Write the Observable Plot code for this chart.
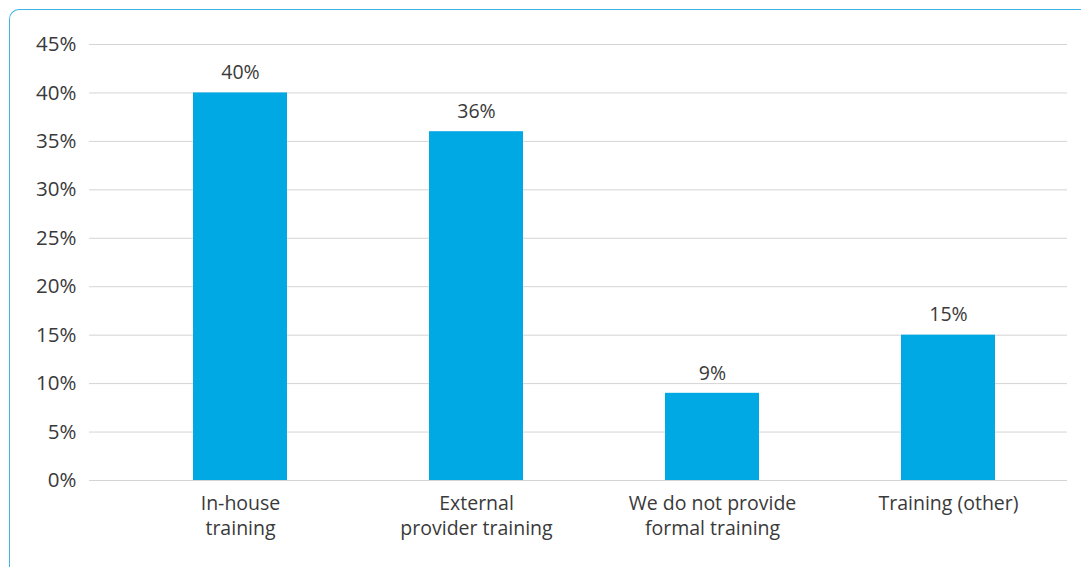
<!DOCTYPE html>
<html>
<head>
<meta charset="utf-8">
<script src="https://cdn.jsdelivr.net/npm/d3@7"></script>
<script src="https://cdn.jsdelivr.net/npm/@observablehq/plot@0.6"></script>
<style>
  html, body { margin: 0; padding: 0; background: #fff; overflow: hidden; }
  #wrap { position: relative; width: 1081px; height: 567px; overflow: hidden; }
  #frame { position: absolute; left: 9px; top: 9px; width: 1200px; height: 700px;
           border-left: 1.5px solid #3cb4e6; border-top: 1.5px solid #3cb4e6;
           border-top-left-radius: 10px; box-sizing: border-box; }
  #chart { position: absolute; left: 0; top: 0; }
  #chart svg { font-family: "Open Sans", sans-serif; }
</style>
</head>
<body>
<div id="wrap"><div id="frame"></div><div id="chart"></div></div>
<script>
const categories = ["In-house\ntraining", "External\nprovider training", "We do not provide\nformal training", "Training (other)"];
const values = [0.40, 0.36, 0.09, 0.15];
const yTicks = [0, 0.05, 0.10, 0.15, 0.20, 0.25, 0.30, 0.35, 0.40, 0.45];

const data = categories.map((c, i) => ({category: c, value: values[i]}));
const pct = d => Math.round(d * 100) + "%";

const chart = Plot.plot({
  width: 1081,
  height: 567,
  marginLeft: 89,
  marginRight: 14,
  marginTop: 44,
  marginBottom: 87,
  style: {fontFamily: "'Open Sans', sans-serif", color: "#3a3a3a", background: "transparent"},
  x: {domain: categories, insetLeft: 33, insetRight: 0, paddingInner: 0.6, paddingOuter: 0.3, label: null},
  y: {domain: [0, 0.45], label: null},
  marks: [
    Plot.ruleY(yTicks, {stroke: "#d4d4d4", strokeWidth: 1}),
    Plot.barY(data, {x: "category", y: "value", fill: "#00a9e4"}),
    Plot.text(data, {x: "category", y: "value", text: d => pct(d.value), dy: -20, lineAnchor: "middle", fontSize: 19.5, fill: "#3a3a3a"}),
    Plot.axisY({ticks: yTicks, tickFormat: pct, tickSize: 0, tickPadding: 13, fontSize: 20.5, fill: "#3a3a3a", label: null}),
    Plot.axisX({tickSize: 0, tickPadding: 12, fontSize: 19.5, lineHeight: 1.28, fill: "#3a3a3a", label: null})
  ]
});
document.getElementById("chart").appendChild(chart);
</script>
</body>
</html>
